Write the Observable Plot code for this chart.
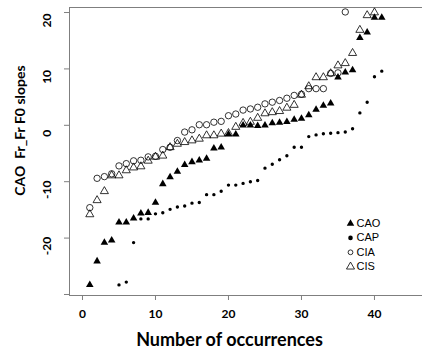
<!DOCTYPE html>
<html><head><meta charset="utf-8">
<script src="https://cdn.jsdelivr.net/npm/d3@7"></script>
<script src="https://cdn.jsdelivr.net/npm/@observablehq/plot@0.6"></script>
<style>body{margin:0;background:#fff}</style>
</head><body><div id="chart"></div>
<script>
// Series values (sorted slopes), by number of occurrences
const caoStart = 1;
const caoValues = [-28.3,-24.1,-20.8,-20.4,-17.2,-17.2,-16.5,-15.6,-15.5,-13.7,-10.4,-9.2,-8.2,-7.0,-6.5,-6.2,-5.9,-4.1,-3.9,-1.6,-1.6,0.0,0.0,-0.1,0.0,0.4,0.5,0.6,1.0,1.2,1.8,2.8,3.5,3.9,8.5,9.4,9.8,15.5,16.5,19.1,19.1];
const capStart = 5;
const capValues = [-28.3,-27.8,-20.8,-16.6,-16.6,-15.7,-15.5,-14.9,-14.5,-14.3,-13.8,-13.7,-12.3,-12.3,-11.7,-10.6,-10.6,-10.3,-10.0,-9.8,-7.6,-6.9,-6.1,-5.4,-3.9,-3.9,-2.0,-1.7,-1.5,-1.4,-1.3,-1.2,-0.6,2.2,4.1,8.6,9.6];
const ciaStart = 1;
const ciaValues = [-14.6,-9.4,-9.1,-8.6,-7.2,-6.8,-6.3,-6.2,-5.6,-5.5,-4.3,-3.9,-2.7,-1.2,-0.8,0.1,0.1,0.55,0.7,1.7,2.0,2.7,2.9,3.2,3.8,4.1,4.4,4.8,5.3,5.5,6.5,6.5,6.5,9.2,9.3,20.1];
const cisStart = 1;
const cisValues = [-15.8,-13.3,-11.7,-8.9,-8.9,-8.0,-7.5,-7.3,-6.3,-5.6,-5.4,-3.9,-3.3,-3.0,-2.7,-2.4,-1.8,-1.8,-1.5,-1.4,-0.3,0.4,0.6,1.3,2.1,2.3,2.5,3.1,3.6,5.4,6.9,8.5,8.5,9.2,10.6,11.0,12.8,16.9,19.5,20.0];

const seriesNames = ["CAO","CAP","CIA","CIS"];
const xTicks = [0,10,20,30,40];
const yTicks = [20,10,0,-10,-20,-30];
const yTickLabels = [20,10,0,-10,-20];
const xLabel = "Number of occurrences";
const yLabel = "CAO\u00a0\u00a0Fr_Fr F0 slopes";

const styles = {
  CAO: {symbol:"triangle", fill:"black", stroke:"none", r:2.8},
  CAP: {symbol:"circle", fill:"black", stroke:"none", r:1.7},
  CIA: {symbol:"circle", fill:"none", stroke:"black", r:3.2},
  CIS: {symbol:"triangle", fill:"none", stroke:"black", r:3.0}
};
const legendStyles = {
  CAO: {symbol:"triangle", fill:"black", stroke:"none", r:2.8},
  CAP: {symbol:"circle", fill:"black", stroke:"none", r:2.3},
  CIA: {symbol:"circle", fill:"none", stroke:"black", r:2.4},
  CIS: {symbol:"triangle", fill:"none", stroke:"black", r:3.0}
};

function rows(name, start, vals) {
  return vals.map((v, i) => ({series: name, x: start + i, y: v}));
}
const data = {
  CAO: rows("CAO", caoStart, caoValues),
  CAP: rows("CAP", capStart, capValues),
  CIA: rows("CIA", ciaStart, ciaValues),
  CIS: rows("CIS", cisStart, cisValues)
};

const width = 422, height = 352;
const mL = 69, mT = 7, mB = 57, mR = 0;
const xDomain = [-1.78, 46.58];
const yDomain = [-30.18, 20.89];
const axisColor = "#7f7f7f";

const marks = [];
marks.push(Plot.ruleY([yDomain[0], yDomain[1]], {stroke: axisColor}));
marks.push(Plot.ruleX([xDomain[0]], {stroke: axisColor}));
marks.push(Plot.axisX({ticks: xTicks, tickSize: 5, tickPadding: 9, fontSize: 12, fontWeight: "bold", stroke: axisColor, fill: "black", label: null}));
marks.push(Plot.axisY({ticks: yTicks, tickSize: 5, tickFormat: () => "", stroke: axisColor, label: null}));
marks.push(Plot.text(yTickLabels, {y: d => d, frameAnchor: "left", dx: -22, dy: 8, rotate: -90, text: d => String(d), fontSize: 12, fontWeight: "bold", fill: "black", textAnchor: "middle", lineAnchor: "middle"}));
marks.push(Plot.text([xLabel], {frameAnchor: "bottom", dx: -16.5, dy: 44.5, text: d => d, fontSize: 18, fontWeight: "bold", fill: "black", lineAnchor: "middle"}));
marks.push(Plot.text([yLabel], {frameAnchor: "left", dx: -49, dy: -21, rotate: -90, text: d => d, fontSize: 14, fontWeight: "bold", fill: "black", lineAnchor: "middle", textAnchor: "middle"}));

for (const name of ["CAP","CAO","CIS","CIA"]) {
  const s = styles[name];
  marks.push(Plot.dot(data[name], {x: "x", y: "y", symbol: () => s.symbol, r: s.r, fill: s.fill, stroke: s.stroke, strokeWidth: 0.8}));
}

// legend (inside plot, lower right)
seriesNames.forEach((name, i) => {
  const s = legendStyles[name];
  const dy = 223 - mT + i * 14.4;
  marks.push(Plot.dot([name], {frameAnchor: "top-left", dx: 350 - mL, dy, symbol: s.symbol, r: s.r, fill: s.fill, stroke: s.stroke, strokeWidth: 0.8}));
  marks.push(Plot.text([name], {frameAnchor: "top-left", dx: 356 - mL, dy, text: d => d, textAnchor: "start", lineAnchor: "middle", fontSize: 11, fill: "black", fontFamily: "Liberation Sans, Arial, sans-serif"}));
});

const chart = Plot.plot({
  width, height,
  marginLeft: mL, marginTop: mT, marginBottom: mB, marginRight: mR,
  style: {fontFamily: "Lato, sans-serif", background: "#fff", color: "black"},
  x: {domain: xDomain},
  y: {domain: yDomain},
  symbol: {type: "identity"},
  marks
});
document.getElementById("chart").appendChild(chart);
</script>
</body></html>
